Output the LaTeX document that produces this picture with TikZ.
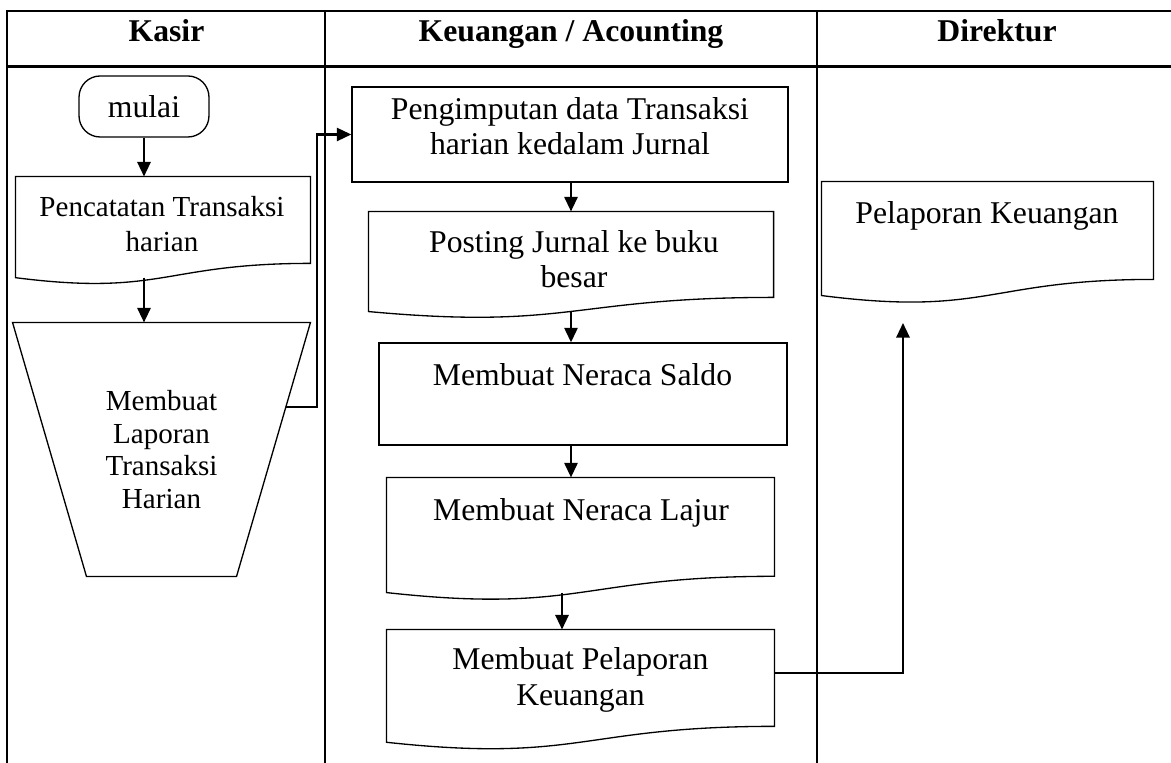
\documentclass[tikz,border=0pt]{standalone}
\usepackage{fontspec}
\setmainfont{Liberation Serif}
\usetikzlibrary{arrows.meta,calc}

% wavy bottom of a document box
\newcommand\docshape[1]{%
  \draw[box] (#1.north west) -- (#1.north east)
    -- ($(#1.south east)!.1413!(#1.north east)$)
    .. controls ($(#1.south)!.1413!(#1.north)$) and ($(#1.south)!-.1858!(#1.north)$) .. (#1.south west) -- cycle;}
% manual operation: trapezoid, narrow side down
\newcommand\manualop[2]{%
  \draw[box] (#1.north west) -- (#1.north east) -- ([xshift=-#2]#1.south east)
    -- ([xshift=#2]#1.south west) -- cycle;}

\begin{document}
\begin{tikzpicture}[x=0.3786pt, y=-0.3786pt,
        lane/.style={line width=0.8pt},
        box/.style={line width=0.5pt},
        arr/.style={line width=0.8pt, -{Triangle[length=5.5pt,width=5pt]}},
        txt/.style={align=center, inner sep=0pt, font=\fontsize{12}{13.5}\selectfont},
        small/.style={align=center, inner sep=0pt, font=\fontsize{11}{13.4}\selectfont},
        head/.style={anchor=base, font=\bfseries\fontsize{12}{14}\selectfont},
        doc/.style={rectangle, inner sep=0pt}]
    \useasboundingbox (0,0) rectangle (1171,763);
    \clip (0,0) rectangle (1171,763);
    % lanes
    \draw[lane] (7.3,763) -- (7.3,11) -- (1171,11);
    \draw[lane] (7.3,66.5) -- (1171,66.5);
    \draw[lane] (325,11) -- (325,763);
    \draw[lane] (817,11) -- (817,763);
    \node[head] (kasir) at (166.5,42) {Kasir};
    \node[head] (keuangan) at (571,42) {Keuangan / Acounting};
    \node[head] (direktur) at (997,42) {Direktur};

    % Kasir
    \node[box, draw, rounded corners=8pt, minimum width=49.2pt, minimum height=23.1pt, txt] (mulai) at (144,106.5) {mulai};
    \node[doc, minimum width=111.3pt, minimum height=37.9pt] (catat) at (163,227.1) {};
    \docshape{catat}
    \node[small] (catat-t) at (162,224) {Pencatatan Transaksi\\harian};
    \node[doc, minimum width=112.4pt, minimum height=95.8pt, align=center,
        font=\fontsize{11}{12.4}\selectfont] (laporan) at (161.5,449.5) {Membuat\\Laporan\\Transaksi\\Harian};
    \manualop{laporan}{28pt}

    % Keuangan / Acounting
    \node[box, draw, minimum width=165.1pt, minimum height=36pt] (jurnal) at (570,134.5) {};
    \node[txt] (jurnal-t) at (570,126) {Pengimputan data Transaksi\\harian kedalam Jurnal};
    \node[doc, minimum width=153pt, minimum height=37.5pt] (posting) at (571,261.5) {};
    \docshape{posting}
    \node[txt] (posting-t) at (574,259) {Posting Jurnal ke buku\\besar};
    \node[box, draw, minimum width=154.5pt, minimum height=38.6pt] (saldo) at (583,394) {};
    \node[txt] (saldo-t) at (582.5,375) {Membuat Neraca Saldo};
    \node[doc, minimum width=146.5pt, minimum height=43.2pt] (lajur) at (580.5,535) {};
    \docshape{lajur}
    \node[txt] (lajur-t) at (581,512.5) {Membuat Neraca Lajur};
    \node[doc, minimum width=146.5pt, minimum height=42.3pt] (buatlapor) at (580.5,685.9) {};
    \docshape{buatlapor}
    \node[txt] (buatlapor-t) at (580.5,680) {Membuat Pelaporan\\Keuangan};

    % Direktur
    \node[doc, minimum width=125.3pt, minimum height=42.8pt] (dirlapor) at (987.5,238.5) {};
    \docshape{dirlapor}
    \node[txt] (dirlapor-t) at (987,216) {Pelaporan Keuangan};
    \coordinate (tip) at (903,323);

    % arrows
    \draw[arr] (mulai.south) -- (mulai.south |- catat.north);
    \draw[arr] (mulai.south |- catat.south) -- (mulai.south |- laporan.north);
    \draw[arr] ($(laporan.north east)!.332!([xshift=-28pt]laporan.south east)$) -- ++(31,0) |- (jurnal.west);
    \draw[arr] (posting.north |- jurnal.south) -- (posting.north);
    \draw[arr] (posting.south) -- (posting.south |- saldo.north);
    \draw[arr] (posting.south |- saldo.south) -- (posting.south |- lajur.north);
    \draw[arr] ([xshift=-7pt]lajur.south) -- ([xshift=-7pt]lajur.south |- buatlapor.north);
    \draw[arr] ([yshift=4.9pt]buatlapor.east) -| (tip);
\end{tikzpicture}
\end{document}
